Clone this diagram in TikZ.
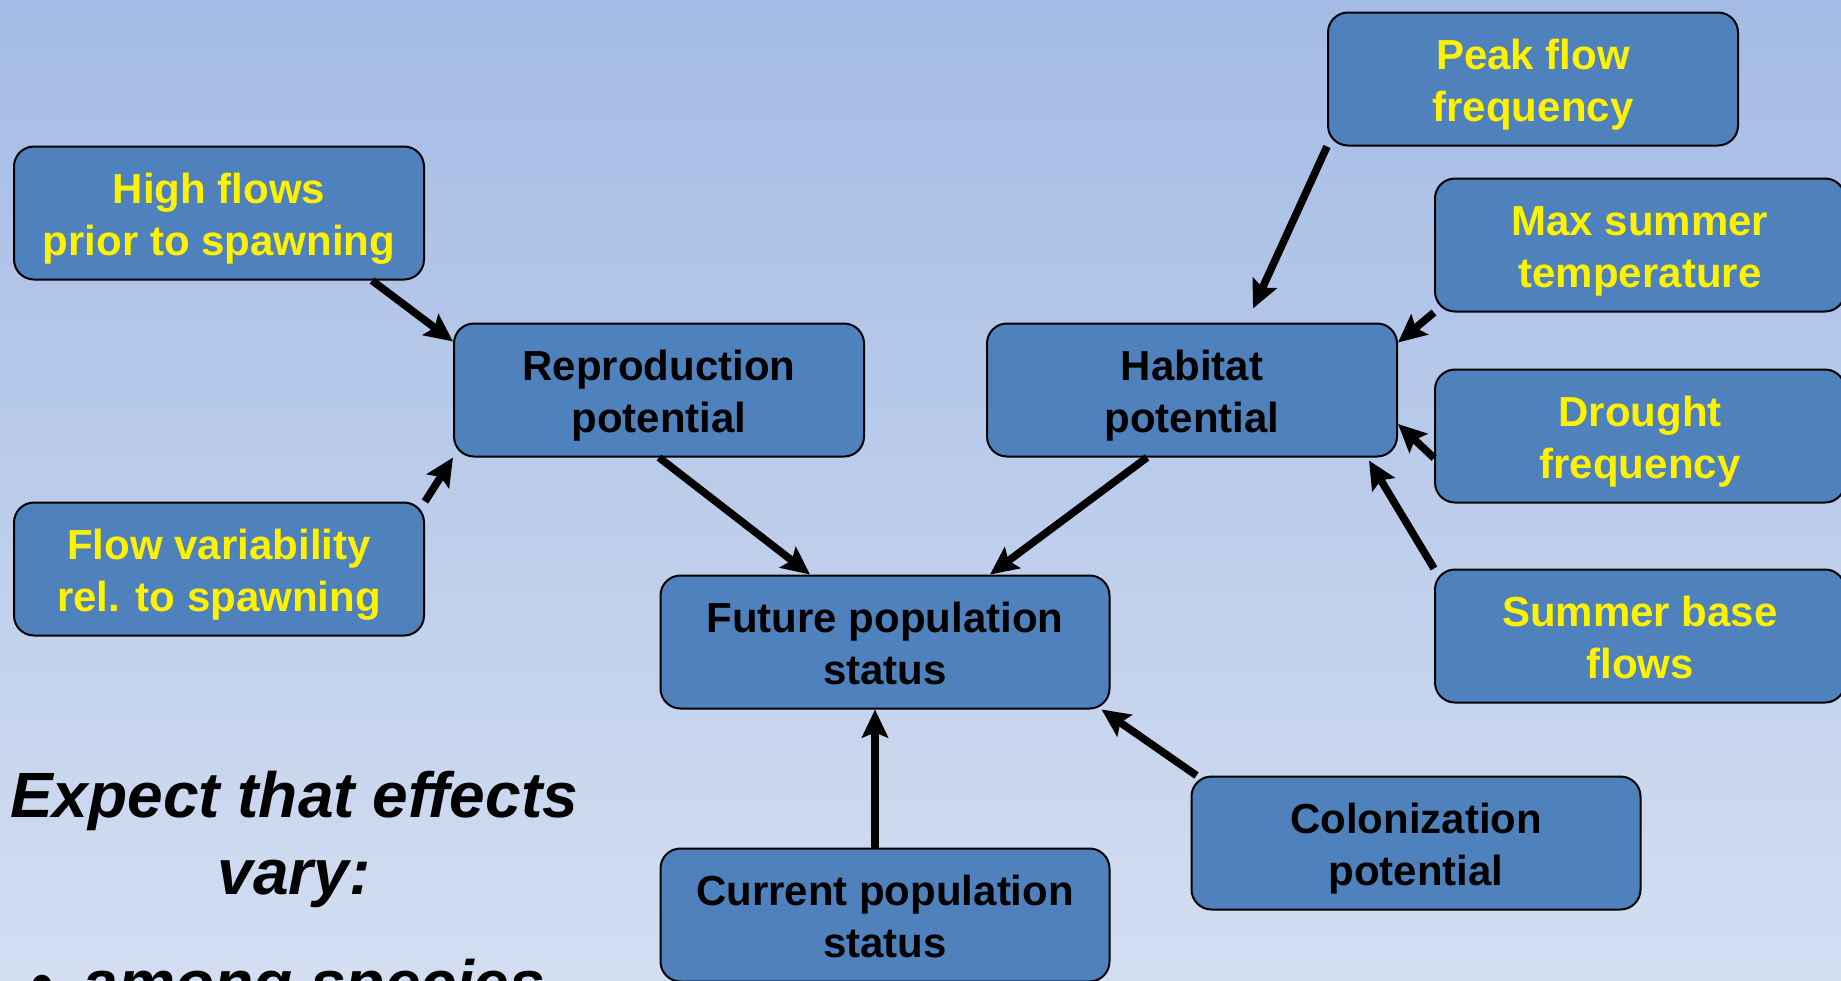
\documentclass[tikz,border=0pt]{standalone}
\usepackage{fontspec}
\setmainfont{Liberation Sans}
\usepackage{tikz}
\usetikzlibrary{positioning,arrows.meta}

\definecolor{boxblue}{RGB}{79,129,189}
\definecolor{skytop}{RGB}{164,187,229}
\definecolor{skybot}{RGB}{211,222,241}

\tikzset{
  box/.style={draw=black, line width=1pt, fill=boxblue, rounded corners=10pt,
    minimum width=205pt, minimum height=66.5pt, align=center, inner sep=0pt,
    text height=42pt, text depth=0pt,
    font=\fontsize{21}{25.8}\selectfont\bfseries},
  driver/.style={box, text=yellow},
  outcome/.style={box, text=black},
  wide/.style={minimum width=224.5pt},
  >={Stealth[length=14pt,width=13pt,inset=2.5pt]},
  link/.style={->, line width=3.8pt},
  remark/.style={inner sep=0pt, font=\fontsize{32}{38.5}\selectfont\bfseries\itshape},
}

\begin{document}
\begin{tikzpicture}[x=0.5pt, y=-0.5pt]
    \useasboundingbox (0,0) rectangle (1841,980);
    \shade[top color=skytop, bottom color=skybot] (0,0) rectangle (1841,980);

    % flow drivers on the left
    \node[driver] (hflow) at (219,213) {High flows\\prior to spawning};
    \node[driver] (fvar)  at (219,569) {Flow variability\\rel. to spawning};

    % the two potentials in the middle row
    \node[outcome] (repro)   at (659,390)  {Reproduction\\potential};
    \node[outcome] (habitat) at (1192,390) {Habitat\\potential};

    % drivers of habitat on the right
    \node[driver] (peak)     at (1533,79)  {Peak flow\\frequency};
    \node[driver] (maxtemp)  at (1640,245) {Max summer\\temperature};
    \node[driver] (drought)  at (1640,436) {Drought\\frequency};
    \node[driver] (baseflow) at (1640,636) {Summer base\\flows};

    % population status
    \node[outcome, wide] (future)  at (885,642)  {Future population\\status};
    \node[outcome, wide] (current) at (885,915)  {Current population\\status};
    \node[outcome, wide] (colon)   at (1416,843) {Colonization\\potential};

    % arrows into reproduction
    \draw[link] ([xshift=-26.5pt]hflow.south east) -- ([yshift=-9.5pt]repro.north west);
    \draw[link] (fvar.north east) -- (repro.south west);

    % arrows into habitat
    \draw[link] (peak.south west) -- ([xshift=30.5pt,yshift=7pt]habitat.north);
    \draw[link] (maxtemp.south west) -- ([yshift=-10pt]habitat.north east);
    \draw[link] ([yshift=-11pt]drought.west) -- ([yshift=-17pt]habitat.east);
    \draw[link] (baseflow.north west) -- ([xshift=-14.5pt,yshift=-1.5pt]habitat.south east);

    % arrows into future status
    \draw[link] (repro.south) -- ([xshift=-37.5pt]future.north);
    \draw[link] ([xshift=-22.5pt]habitat.south) -- ([xshift=52.5pt]future.north);
    \draw[link] ([xshift=-5pt]current.north) -- ([xshift=-5pt]future.south);
    \draw[link] ([xshift=3pt]colon.north west) -- ([xshift=-4.5pt]future.south east);

    % side remark
    \node[remark, align=center] (expect) at (294,839) {Expect that effects\\vary:};
    \node[remark, anchor=base west] (species) at (30,1005) {•\hspace{15pt}among species};
\end{tikzpicture}
\end{document}
